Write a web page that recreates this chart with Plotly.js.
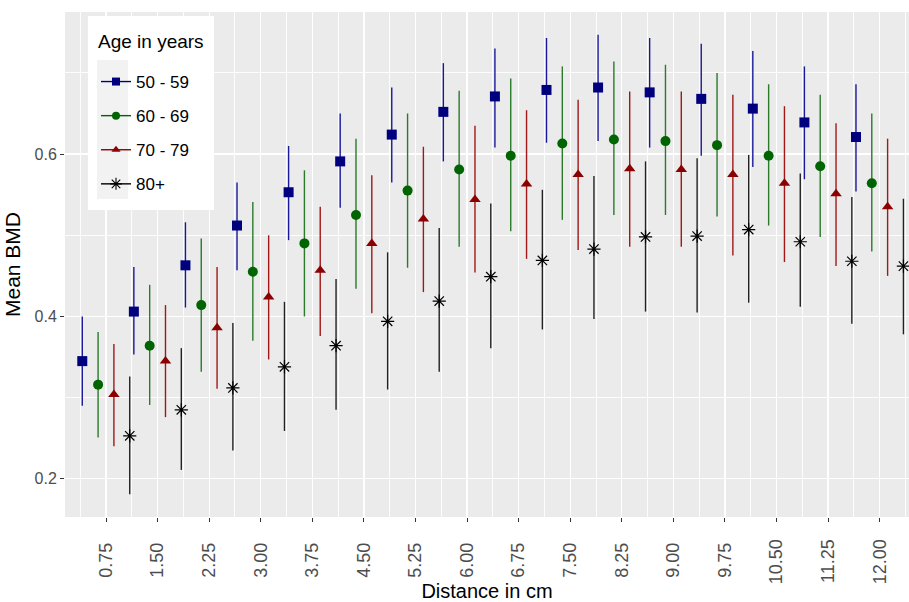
<!DOCTYPE html>
<html><head><meta charset="utf-8">
<script src="https://cdn.plot.ly/plotly-3.0.1.min.js"></script>
<style>html,body{margin:0;padding:0;background:#fff}#chart{width:909px;height:602px}</style>
</head><body><div id="chart"></div>
<script>
const distances = [0.75,1.50,2.25,3.00,3.75,4.50,5.25,6.00,6.75,7.50,8.25,9.00,9.75,10.50,11.25,12.00];
const tickLabels = ["0.75","1.50","2.25","3.00","3.75","4.50","5.25","6.00","6.75","7.50","8.25","9.00","9.75","10.50","11.25","12.00"];
const groups = ["50 - 59","60 - 69","70 - 79","80+"];

const mean_50_59  = [0.345,0.406,0.463,0.512,0.553,0.591,0.624,0.652,0.671,0.679,0.682,0.676,0.668,0.656,0.639,0.621];
const upper_50_59 = [0.400,0.461,0.516,0.565,0.610,0.650,0.682,0.712,0.730,0.743,0.747,0.743,0.736,0.727,0.708,0.686];
const lower_50_59 = [0.290,0.353,0.411,0.457,0.494,0.534,0.565,0.591,0.608,0.614,0.616,0.608,0.598,0.584,0.569,0.554];

const mean_60_69  = [0.316,0.364,0.414,0.455,0.490,0.525,0.555,0.581,0.598,0.613,0.618,0.616,0.611,0.598,0.585,0.564];
const upper_60_69 = [0.381,0.439,0.496,0.541,0.580,0.619,0.650,0.678,0.693,0.708,0.714,0.710,0.700,0.686,0.673,0.650];
const lower_60_69 = [0.251,0.291,0.332,0.370,0.400,0.434,0.460,0.486,0.505,0.519,0.525,0.525,0.523,0.512,0.498,0.480];

const mean_70_79  = [0.304,0.345,0.386,0.424,0.457,0.490,0.520,0.544,0.563,0.575,0.582,0.581,0.575,0.564,0.551,0.535];
const upper_70_79 = [0.366,0.414,0.461,0.500,0.535,0.574,0.609,0.635,0.654,0.667,0.677,0.677,0.673,0.659,0.638,0.619];
const lower_70_79 = [0.240,0.276,0.311,0.347,0.376,0.404,0.430,0.454,0.471,0.482,0.486,0.486,0.475,0.467,0.462,0.450];

const mean_80  = [0.253,0.285,0.312,0.338,0.364,0.394,0.419,0.449,0.469,0.483,0.498,0.499,0.507,0.492,0.468,0.462];
const upper_80 = [0.326,0.361,0.392,0.418,0.446,0.479,0.509,0.539,0.556,0.573,0.591,0.595,0.599,0.576,0.547,0.545];
const lower_80 = [0.181,0.211,0.235,0.259,0.285,0.310,0.332,0.361,0.384,0.397,0.406,0.405,0.417,0.412,0.391,0.378];

const means  = [mean_50_59, mean_60_69, mean_70_79, mean_80];
const uppers = [upper_50_59, upper_60_69, upper_70_79, upper_80];
const lowers = [lower_50_59, lower_60_69, lower_70_79, lower_80];

const colors  = ["#00007f","#006400","#8b0000","#000000"];
const barColors = ["#1a1a99","#2a7a2a","#a01818","#222222"];
const symbols = ["square","circle","triangle-up","asterisk-open"];
const sizes   = [10,10,10,11];
const dodgeWidth = 0.92;

const traces = [];
groups.forEach((g, k) => {
  const off = (k - 1.5) * dodgeWidth / 4;
  const m = means[k], u = uppers[k], l = lowers[k];
  traces.push({
    type: "scatter", mode: "markers", name: g, showlegend: false,
    x: distances.map(d => d + off), y: m,
    error_y: {type: "data", symmetric: false,
      array: u.map((v, i) => v - m[i]), arrayminus: l.map((v, i) => m[i] - v),
      width: 0, thickness: 1.4, color: barColors[k]},
    marker: {symbol: symbols[k], size: sizes[k], color: colors[k],
      line: {color: colors[k], width: k === 3 ? 1.2 : 0}},
    hoverinfo: "x+y"
  });
});
// legend entries (pointrange keys)
groups.forEach((g, k) => {
  traces.push({
    type: "scatter", mode: "lines+markers", name: g, legendgroup: "g" + k,
    x: [null], y: [null],
    line: {color: colors[k], width: 1.4},
    marker: {symbol: symbols[k], size: k === 3 ? 10 : 8, color: colors[k],
      line: {color: colors[k], width: k === 3 ? 1.1 : 0}}
  });
});

// pixel helpers for legend box decoration (plot area: x 65..909, y 12..517)
const px = v => (v - 65) / 844;
const py = v => (517 - v) / 505;

const layout = {
  width: 909, height: 602,
  margin: {l: 65, r: 0, t: 12, b: 85, pad: 0},
  paper_bgcolor: "#ffffff", plot_bgcolor: "#ebebeb",
  font: {family: "Liberation Sans, Arial, sans-serif", color: "#000"},
  showlegend: true,
  xaxis: {
    range: [0.1538, 12.426], tickmode: "array", tickvals: distances,
    ticktext: tickLabels.map(t => t.length < 5 ? t + "\u2009" : t),
    tickangle: -90, ticks: "outside", ticklen: 4, tickwidth: 1, tickcolor: "#333333",
    ticklabelstandoff: 10,
    tickfont: {size: 18, color: "#4d4d4d"},
    showgrid: true, gridcolor: "#ffffff", gridwidth: 1.3, zeroline: false, showline: false,
    minor: {tick0: 0.375, dtick: 0.75, showgrid: true, gridcolor: "#ffffff", gridwidth: 0.9},
    title: {text: "Distance in cm", font: {size: 20, color: "#000"}, standoff: 0}
  },
  yaxis: {
    range: [0.153, 0.775], tickmode: "linear", tick0: 0, dtick: 0.2, tickformat: ".1f",
    ticks: "outside", ticklen: 4, tickwidth: 1, tickcolor: "#333333",
    tickfont: {size: 16, color: "#4d4d4d"},
    showgrid: true, gridcolor: "#ffffff", gridwidth: 1.3, zeroline: false, showline: false,
    minor: {tick0: 0.1, dtick: 0.2, showgrid: true, gridcolor: "#ffffff", gridwidth: 0.9},
    title: {text: "Mean BMD", font: {size: 21, color: "#000"}, standoff: 8}
  },
  legend: {
    x: px(96), y: py(64), xanchor: "left", yanchor: "top",
    bgcolor: "rgba(0,0,0,0)", borderwidth: 0,
    font: {size: 17, color: "#000"},
    tracegroupgap: 9, traceorder: "grouped", itemwidth: 30
  },
  annotations: [{
    text: "Age in years", xref: "paper", yref: "paper", x: px(96), y: py(41),
    xanchor: "left", yanchor: "middle", showarrow: false,
    font: {size: 19, color: "#000"}
  }],
  shapes: [
    {type: "rect", xref: "paper", yref: "paper", x0: px(88), x1: px(214), y0: py(210), y1: py(16),
     fillcolor: "#ffffff", line: {width: 0}, layer: "above"},
    {type: "rect", xref: "paper", yref: "paper", x0: px(97), x1: px(128), y0: py(199), y1: py(60),
     fillcolor: "#f2f2f2", line: {width: 0}, layer: "above"}
  ]
};

Plotly.newPlot("chart", traces, layout, {displayModeBar: false, staticPlot: true});
</script>
</body></html>
